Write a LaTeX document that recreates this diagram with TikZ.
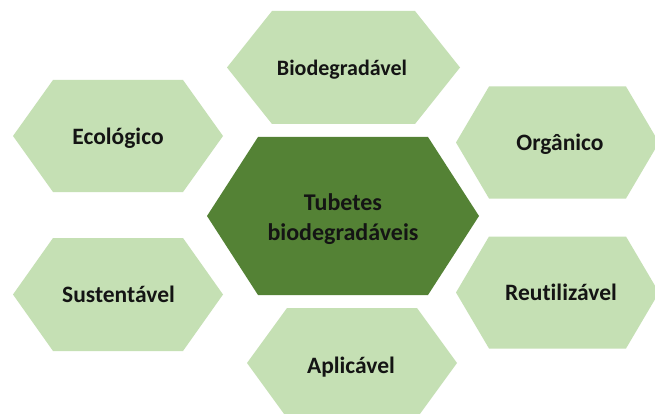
\documentclass[tikz,border=0pt]{standalone}
\usepackage{fontspec}
\setmainfont{Carlito}[Ligatures=NoCommon]
\definecolor{lightgr}{HTML}{C5E0B4}
\definecolor{darkgr}{HTML}{548235}
\definecolor{txt}{HTML}{141414}
\newcommand\hexagonshape[6]{%
  \fill[#6] (#1-#3,#2) -- (#1-#3+#5,#2-#4) -- (#1+#3-#5,#2-#4) -- (#1+#3,#2)
    -- (#1+#3-#5,#2+#4) -- (#1-#3+#5,#2+#4) -- cycle;}
\begin{document}
\begin{tikzpicture}[x=1pt,y=-1pt,
  lbl/.style={text=txt,font=\bfseries\fontsize{23.5}{28}\selectfont,anchor=base,inner sep=0pt},
  mainlbl/.style={text=txt,font=\bfseries\fontsize{24}{30}\selectfont,align=center,inner sep=0pt}]
\useasboundingbox (0,0) rectangle (655,414);
\fill[white] (0,0) rectangle (655,414);
% outer hexagons
\hexagonshape{343.5}{67.5}{116.5}{56.5}{45}{lightgr}
\hexagonshape{118}{136}{105}{56}{40}{lightgr}
\hexagonshape{557.5}{142.5}{101.5}{56}{33}{lightgr}
\hexagonshape{118}{294.5}{105}{56.5}{40}{lightgr}
\hexagonshape{557.5}{292.5}{101.5}{56}{33}{lightgr}
\hexagonshape{352}{363}{105}{55}{40}{lightgr}
% centre hexagon
\hexagonshape{343}{216}{136}{79}{51}{darkgr}
% labels
\node[lbl,font=\bfseries\fontsize{22}{26}\selectfont] (bio) at (342,75.5) {Biodegradável};
\node[lbl] (eco) at (118,144.5) {Ecológico};
\node[lbl] (org) at (560,150) {Orgânico};
\node[lbl] (sus) at (118.5,302.5) {Sustentável};
\node[lbl] (reu) at (561,300) {Reutilizável};
\node[lbl] (apl) at (351,373) {Aplicável};
\node[mainlbl] (ctr) at (343,219) {Tubetes\\biodegradáveis};
\end{tikzpicture}
\end{document}
